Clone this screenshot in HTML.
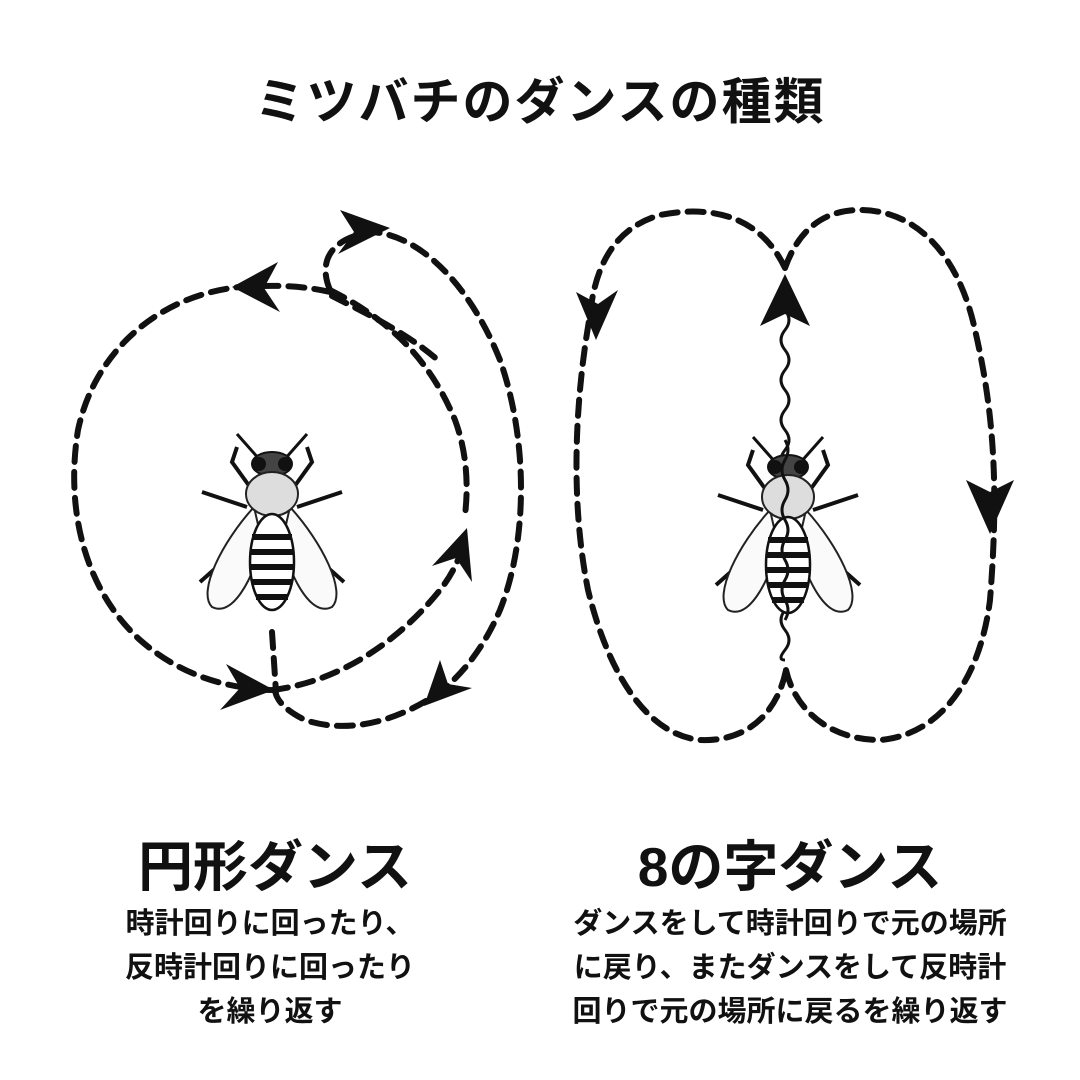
<!DOCTYPE html>
<html><head><meta charset="utf-8"><style>
html,body{margin:0;padding:0;background:#fff;}
body{width:1080px;height:1080px;position:relative;overflow:hidden;font-family:"Liberation Sans","Noto Sans CJK JP",sans-serif;color:#111;}
.t{position:absolute;text-align:center;font-weight:bold;white-space:nowrap;}
</style></head><body>
<svg width="1080" height="1080" style="position:absolute;left:0;top:0">
<defs>
<g id="bee">
 <path d="M-12,-62 L-35,-88 M12,-62 L35,-88" stroke="#111" stroke-width="3" fill="none"/>
 <path d="M-22,-35 L-40,-60 L-35,-75 M22,-35 L40,-60 L35,-75 M-25,-15 L-55,-25 L-70,-30 M25,-15 L55,-25 L70,-30 M-20,20 L-55,45 L-72,60 M20,20 L55,45 L72,60" stroke="#111" stroke-width="4" fill="none"/>
 <path d="M-18,-15 C-50,20 -75,70 -60,85 C-40,95 -20,60 -10,20 Z" fill="#fafafa" stroke="#222" stroke-width="2"/>
 <path d="M18,-15 C50,20 75,70 60,85 C40,95 20,60 10,20 Z" fill="#fafafa" stroke="#222" stroke-width="2"/>
 <ellipse cx="0" cy="-58" rx="20" ry="12" fill="#444" stroke="#111" stroke-width="2"/>
 <circle cx="-13" cy="-58" r="7" fill="#111"/><circle cx="13" cy="-58" r="7" fill="#111"/>
 <ellipse cx="0" cy="-28" rx="26" ry="22" fill="#ddd" stroke="#222" stroke-width="2"/>
 <ellipse cx="0" cy="40" rx="22" ry="48" fill="#fff" stroke="#111" stroke-width="2.5"/>
 <path d="M-20,15 H20 M-22,30 H22 M-22,45 H22 M-20,60 H20 M-16,75 H16" stroke="#111" stroke-width="6"/>
</g>
</defs>
<g fill="none" stroke="#111" stroke-width="6" stroke-dasharray="16 10" stroke-linecap="round">
 <path d="M330,292 C300,285 270,285 240,287 C160,295 95,350 78,430 C65,510 85,590 140,640 C180,675 225,688 270,690"/>
 <path d="M272,690 C340,682 400,640 440,590 C452,575 460,558 465,540"/>
 <path d="M330,290 C390,320 430,360 455,420 C468,455 468,490 465,515"/>
 <path d="M332,296 C370,315 410,335 440,362"/>
 <path d="M330,290 C318,262 330,238 372,232 C420,235 470,285 500,360 C528,440 528,540 500,610 C485,645 465,672 440,692 C400,720 350,735 305,720 C285,710 276,700 275,690"/>
 <path d="M272,632 L276,692"/>
 <path d="M785,268 C760,215 710,205 660,215 C615,228 595,265 590,315 C575,400 570,500 588,590 C610,680 650,735 700,740 C750,742 778,710 786,670"/>
 <path d="M786,670 C795,710 830,740 880,740 C940,735 980,680 990,600 C998,500 996,420 975,330 C960,260 920,210 860,210 C815,210 795,240 785,268"/>
</g>
<g fill="#111">
 <polygon points="232,287 278,262 264,288 280,312"/>
 <polygon points="390,228 340,210 354,232 338,254"/>
 <polygon points="274,690 226,664 240,688 220,710"/>
 <polygon points="467,528 432,566 456,558 472,582"/>
 <polygon points="424,706 440,660 448,684 472,688"/>
 <polygon points="596,340 576,292 598,304 618,290"/>
 <polygon points="785,274 760,326 785,314 810,326"/>
 <polygon points="990,534 966,480 990,492 1014,480"/>
</g>
<path d="M785,310 q8,10 0,20 q-8,10 0,20 q8,10 0,20 q-8,10 0,20 q8,10 0,20 q-8,10 0,20 q8,10 0,20 q-8,10 0,20 q8,10 0,20 q-8,10 0,20 q8,10 0,20 q-8,10 0,20 q8,10 0,20 q-8,10 0,20 q8,10 0,20 q-8,10 0,20 q8,10 0,20 q-8,10 0,10" fill="none" stroke="#111" stroke-width="3"/>
<use href="#bee" x="272" y="522"/>
<use href="#bee" x="788" y="525"/>
<path d="M785,440 q6,10 0,20 q-6,10 0,20 q6,10 0,20 q-6,10 0,20 q6,10 0,20 q-6,10 0,20 q6,10 0,20 q-6,10 0,20 q6,10 0,20" fill="none" stroke="#111" stroke-width="3"/>
</svg>
<div class="t" style="left:0;width:1080px;top:62px;font-size:50px;letter-spacing:2px">ミツバチのダンスの種類</div>
<div class="t" style="left:100px;width:350px;top:822px;font-size:55px">円形ダンス</div>
<div class="t" style="left:590px;width:400px;top:822px;font-size:55px">8の字ダンス</div>
<div class="t" style="left:70px;width:400px;top:902px;font-size:29px;line-height:44px">時計回りに回ったり、<br>反時計回りに回ったり<br>を繰り返す</div>
<div class="t" style="left:530px;width:520px;top:902px;font-size:29px;line-height:44px">ダンスをして時計回りで元の場所<br>に戻り、またダンスをして反時計<br>回りで元の場所に戻るを繰り返す</div>
</body></html>
